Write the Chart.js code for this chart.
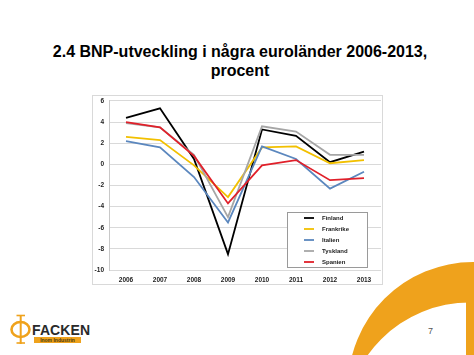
<!DOCTYPE html>
<html>
<head>
<meta charset="utf-8">
<script src="https://cdn.jsdelivr.net/npm/chart.js@4/dist/chart.umd.min.js"></script>
<style>
  html, body { margin: 0; padding: 0; background: #fff; }
  body { width: 474px; height: 355px; position: relative; overflow: hidden; font-family: "Liberation Sans", Arial, sans-serif; }
  .title { position: absolute; left: 3px; width: 474px; text-align: center; font-weight: bold; font-size: 16px; line-height: 16px; color: #000; white-space: nowrap; }
  #frame { position: absolute; left: 92px; top: 95px; width: 291px; height: 190px; box-sizing: border-box; border: 1px solid #d9d9d9; }
  #wrap { position: absolute; left: 93px; top: 92px; width: 289px; height: 192px; }
  #deco { position: absolute; left: 0; top: 0; }
  .facken { position: absolute; left: 32px; top: 322px; font-family: "Liberation Sans Narrow", "Liberation Sans", Arial, sans-serif; font-weight: bold; font-size: 14px; line-height: 16px; color: #2a2a2a; letter-spacing: 0.1px; }
  .inom { position: absolute; left: 34px; top: 337px; width: 47px; height: 6px; background: #EFA21C; font-size: 5px; line-height: 6px; font-weight: bold; color: #4a3a10; text-align: center; white-space: nowrap; }
  .page { position: absolute; left: 428px; top: 326px; font-size: 9px; line-height: 10px; color: #555; }
</style>
</head>
<body>
<svg id="deco" width="474" height="355">
  <path fill="#EFA21C" fill-rule="evenodd"
    d="M 348 387 a 125 125 0 1 0 250 0 a 125 125 0 1 0 -250 0 Z
       M 344.4 428 a 125.6 125.6 0 1 0 251.2 0 a 125.6 125.6 0 1 0 -251.2 0 Z"/>
  <rect x="466" y="290" width="8" height="65" fill="#EFA21C"/>
  <ellipse cx="20.5" cy="329.5" rx="9" ry="7.5" fill="none" stroke="#EFA21C" stroke-width="2.6"/>
  <line x1="20.7" y1="315" x2="20.7" y2="344" stroke="#EFA21C" stroke-width="2"/>
  <line x1="16.5" y1="315.5" x2="25" y2="315.5" stroke="#EFA21C" stroke-width="1.6"/>
  <line x1="16.5" y1="343" x2="25" y2="343" stroke="#EFA21C" stroke-width="1.6"/>
</svg>
<div class="title" style="top:44px">2.4 BNP-utveckling i några euroländer 2006-2013,</div>
<div class="title" style="top:63px">procent</div>
<div id="frame"></div>
<div id="wrap"><canvas id="c"></canvas></div>
<div class="facken">FACKEN</div>
<div class="inom">Inom Industrin</div>
<div class="page">7</div>
<script>
const years = ['2006', '2007', '2008', '2009', '2010', '2011', '2012', '2013'];
const finland   = [4.4, 5.3, 0.5, -8.5, 3.3, 2.7, 0.2, 1.2];
const frankrike = [2.6, 2.3, -0.1, -3.1, 1.6, 1.7, 0.1, 0.4];
const italien   = [2.2, 1.6, -1.2, -5.5, 1.7, 0.5, -2.3, -0.7];
const tyskland  = [3.9, 3.5, 0.9, -5.0, 3.6, 3.1, 0.9, 0.9];
const spanien   = [4.0, 3.5, 0.8, -3.7, -0.1, 0.4, -1.5, -1.3];
const seriesNames = ['Finland', 'Frankrike', 'Italien', 'Tyskland', 'Spanien'];
const seriesColors = ['#000000', '#F2C000', '#5B87BE', '#A6A6A6', '#E0202A'];
const yTicks = [6, 4, 2, 0, -2, -4, -6, -8, -10];

const seriesData = [finland, frankrike, italien, tyskland, spanien];
const datasets = seriesData.map((d, i) => ({
  label: seriesNames[i],
  data: d,
  borderColor: seriesColors[i],
  backgroundColor: seriesColors[i],
  borderWidth: 1.8,
  pointRadius: 0,
  tension: 0,
  fill: false,
  order: seriesData.length - i
}));

const tickFont = { family: '"Liberation Sans", Arial, sans-serif', size: 6.5, weight: 'bold' };

const legendPlugin = {
  id: 'insideLegend',
  afterDatasetsDraw(chart) {
    const ctx = chart.ctx;
    const a = chart.chartArea;
    const w = 80, h = 55;
    const left = a.right - 14 - w;
    const top = a.bottom - 3 - h;
    ctx.save();
    ctx.fillStyle = '#ffffff';
    ctx.fillRect(left, top, w, h);
    ctx.strokeStyle = '#9a9a9a';
    ctx.lineWidth = 1;
    ctx.strokeRect(left + 0.5, top + 0.5, w, h);
    ctx.font = 'bold 6px "Liberation Sans", Arial, sans-serif';
    ctx.textBaseline = 'middle';
    ctx.textAlign = 'left';
    seriesNames.forEach((name, i) => {
      const y = top + 6 + i * 11;
      ctx.strokeStyle = seriesColors[i];
      ctx.lineWidth = 1.8;
      ctx.beginPath();
      ctx.moveTo(left + 17, y);
      ctx.lineTo(left + 27, y);
      ctx.stroke();
      ctx.fillStyle = '#222';
      ctx.fillText(name, left + 35, y);
    });
    ctx.restore();
  }
};

new Chart(document.getElementById('c'), {
  type: 'line',
  data: { labels: years, datasets },
  options: {
    responsive: true,
    maintainAspectRatio: false,
    animation: false,
    layout: { padding: { top: 0, right: 1, left: 0, bottom: 0 } },
    plugins: { legend: { display: false }, tooltip: { enabled: false }, title: { display: false } },
    scales: {
      x: {
        offset: true,
        grid: { display: false, drawTicks: false },
        border: { display: false },
        ticks: { font: tickFont, color: '#222', padding: 6, maxRotation: 0 },
        afterFit(s) { s.height = 14; }
      },
      y: {
        min: Math.min(...yTicks),
        max: Math.max(...yTicks),
        afterBuildTicks(s) { s.ticks = yTicks.map(v => ({ value: v })); },
        grid: { color: '#d9d9d9', lineWidth: 1, drawTicks: false },
        border: { display: true, color: '#c8c8c8' },
        ticks: { font: tickFont, color: '#222', padding: 5 },
        afterFit(s) { s.width = 16; }
      }
    }
  },
  plugins: [legendPlugin]
});
</script>
</body>
</html>
